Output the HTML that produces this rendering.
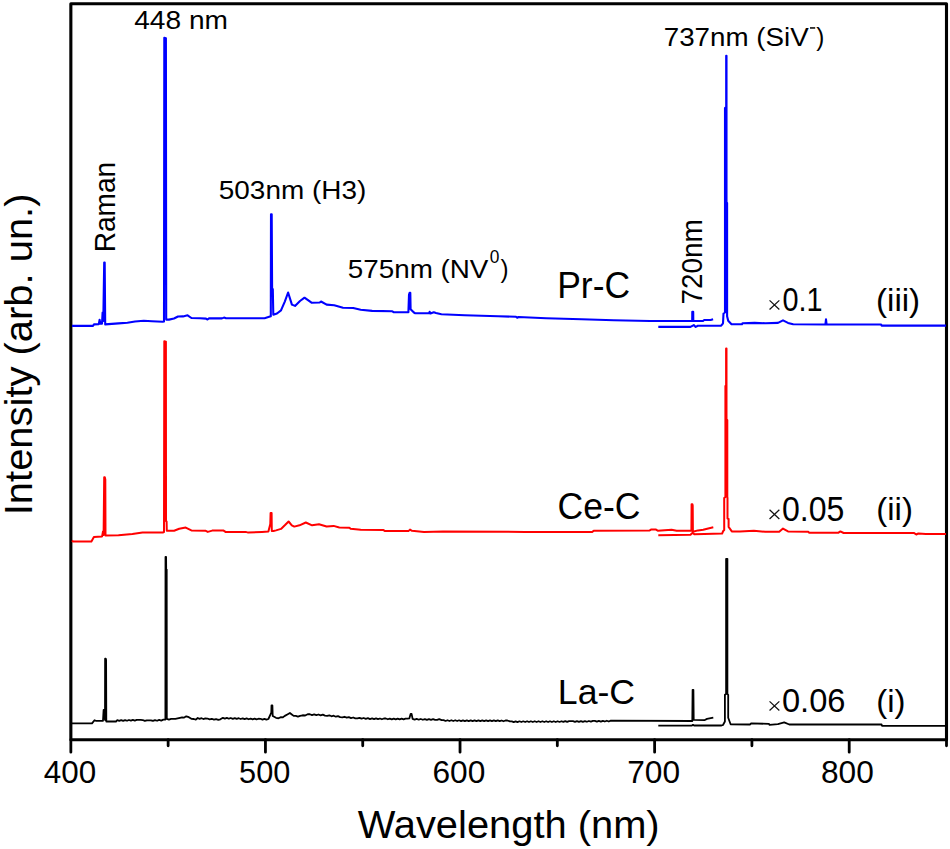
<!DOCTYPE html>
<html><head><meta charset="utf-8"><title>PL spectra</title>
<style>html,body{margin:0;padding:0;background:#fff;}svg{display:block;}</style></head>
<body><svg width="950" height="849" viewBox="0 0 950 849" font-family="&quot;Liberation Sans&quot;, sans-serif" fill="#000">
<rect width="950" height="849" fill="#fff"/>
<rect x="70.85" y="3.8" width="875.65" height="735.95" fill="none" stroke="#000" stroke-width="3.1" stroke-linejoin="round"/>
<path d="M70.85,739.75V752.2M168.14,739.75V745.8M265.44,739.75V752.2M362.73,739.75V745.8M460.03,739.75V752.2M557.32,739.75V745.8M654.62,739.75V752.2M751.91,739.75V745.8M849.21,739.75V752.2M946.50,739.75V745.8" stroke="#000" stroke-width="2.8" stroke-linecap="round" fill="none"/>
<polyline points="72,325.9 93,325.9 94,324.4 98.8,324.1 99.6,319.8 100.4,323.8 102,323.8 102.6,312.6 103.3,321 104.2,262.6 104.7,262.6 105.2,324.4 118.5,323.4 127.4,322.7 135,321.5 143.8,320.8 152,321.2 162.7,321.8 164,321.5 164.3,37.8 165.9,38.2 166.2,319.6 169,319.6 174,318.5 178,316.5 183,316.4 187.6,315.3 191.4,318 200,318.2 206,318.6 207.5,319.5 209,318.4 222,318.4 224,317.6 226,318.3 264.6,318.2 268.4,317 270.8,316.3 271,214.2 271.7,214.2 272.1,289 272.8,289 273.3,314.8 277,313.5 281,310.4 284.8,301.6 288.1,292.5 291.9,304.6 295,305.9 300,301 304.5,297.7 311.5,302.7 319.7,302.5 321,301.5 326.6,304.6 334.2,305.3 343,307.8 353.2,308 360.7,309.7 372.1,310.9 392.3,311.3 393.6,312.2 408.4,312.3 409,294.8 409.6,292.8 410.3,292.8 410.6,309.2 413.9,312.5 415.3,313.3 429,313.3 429.6,311.8 430.4,313.5 433.8,312.2 436,313 441.4,314.2 464.7,315.2 498.2,316.2 516,316.8 517.2,317.8 518.5,317 546.2,318.3 581.6,319.2 613.8,320.2 649.8,321 692.2,321 692.3,311.7 693.2,311.7 693.3,321 703,321 704.2,320 710.6,320 713.1,319.2" fill="none" stroke="#0000ff" stroke-width="2.1" stroke-linejoin="round" stroke-linecap="butt"/>
<polyline points="658.3,326.9 690.5,326.9 693.8,325.1 695.7,326.9 697.9,325.8 721.2,325.6 723,323.3 723.5,313.5 725,312.5 725,108 726.2,107 726.2,55.8 726.5,55.8 726.5,202 727.1,203 727.1,316.2 728.2,320.8 731.5,324.3 742,324.3 742.5,323.3 754.6,322.9 765.4,323.3 778,322.9 783,320.4 788,322.9 793.2,324.2 825.4,324.5 826,319.3 826.6,324.5 881.1,324.5 881.6,325.6 946,325.6" fill="none" stroke="#0000ff" stroke-width="2.1" stroke-linejoin="round" stroke-linecap="butt"/>
<polyline points="72,540.5 73,541.5 91.4,541.5 93.9,537 102.1,536.4 103,531.4 103.6,535 104.2,477.2 104.8,477.2 105.3,479.5 105.5,535.5 118.5,535.2 132.4,533.9 142.5,532.6 162.7,532.6 164,532 164.3,341.2 165.9,341.6 166,521.3 166.6,521.5 166.8,530.7 174.1,530.7 179.2,528.8 185.7,527.6 191.4,530.4 205.3,530.7 207.8,531.9 212.2,530.6 223.6,530.6 225.5,531.9 245.7,531.9 248.2,532.6 262,532 268.4,531.6 270.3,524 270.6,513 271.6,513 271.8,531 273.5,531 276,530.4 281,528.9 284.8,525.3 288.6,521.5 291.8,525.3 294.3,526.6 299.5,525.3 305.8,522.5 312.1,525.3 319,524.3 326.6,526.5 333.6,525.9 339.3,527.5 349.4,527.8 350.6,528.8 360.7,529.7 383.5,530.1 384.7,530.9 408.7,530.9 410,529.6 412,530.8 424,532.1 442.9,531.5 525,531.9 592.2,532.1 593.7,530.8 649.7,530.4 651.4,529.4 655.6,529.4 657.7,530.7 671.6,529.8 676.6,530.7 691.4,530.7 691.6,504.3 692.4,504.3 692.7,505.5 692.9,531.7 698,530.4 703.2,529.8 708.2,528.5 713.3,527.3" fill="none" stroke="#ff0000" stroke-width="2.0" stroke-linejoin="round" stroke-linecap="butt"/>
<polyline points="658.3,535.2 690.5,534.8 692.4,532.9 694.3,534.2 704.4,534 722.1,533.6 723.2,531 724.2,530 724.2,498 725.4,497 725.4,386 726.1,385 726.1,348.6 726.5,348.6 726.5,419 727.3,420 727.3,497 727.5,498 727.5,518.6 728.6,519 728.6,526.9 731.8,531.4 740,531.4 753.9,530.8 765.3,531.8 779.2,531.8 783,528.6 788,531.4 808.2,531.7 809,532.7 838.5,532.7 840.4,531.4 843.6,533 914.2,533.1 916.3,534.5 918.4,533.4 925.8,533.9 946,533.9" fill="none" stroke="#ff0000" stroke-width="2.0" stroke-linejoin="round" stroke-linecap="butt"/>
<polyline points="72,723.4 92,723.4 94.5,720.2 95.8,720.8 103,720.8 103.6,710 105,720 105.1,658.7 105.8,658.7 106.1,660 106.3,721.5 116,721.5 117.3,720.2 119.25,720.91 121.19,720.13 123.14,720.84 125.08,720.05 127.03,720.77 128.97,719.98 130.92,720.7 132.86,719.91 134.81,720.62 136.75,719.84 138.7,719.8 140.72,719.92 142.74,720.04 144.76,720.91 146.78,720.28 148.8,720.4 150.88,720.3 152.95,720.95 155.03,720.1 157.1,720.75 159.18,719.9 161.25,720.55 163.33,719.7 165.4,719.6 165.5,557 166.1,557 166.2,569.3 166.7,569.5 166.8,718.9 168.95,719.65 171.1,718.9 173.25,718.9 175.4,718.9 177.7,718.35 180,717.8 182.1,717.3 184.2,717.55 186.3,716.3 188.83,717.2 191.37,718.85 193.9,719 195.8,719.7 197.7,718 199.6,718.85 201.5,718.2 203.4,719.05 205.3,718.4 207.46,718.53 209.61,719.41 211.77,718.79 213.93,719.66 216.09,719.04 218.24,719.92 220.4,719.3 222.9,717.8 224.88,718.6 226.86,717.9 228.83,718.71 230.81,718.01 232.79,718.81 234.77,718.11 236.75,718.92 238.73,718.22 240.7,719.02 242.68,718.32 244.66,719.12 246.64,718.43 248.62,719.23 250.6,718.53 252.57,719.33 254.55,718.63 256.53,719.44 258.51,718.74 260.49,718.79 262.47,719.59 264.44,718.9 266.42,719.7 268.4,719 271.3,712.7 271.5,705.5 272.4,705.5 272.7,716 276,717.8 278.5,718.25 281,717.2 282.9,717.3 284.8,715.9 287.35,714.45 289.9,713 291.8,714.45 293.7,715.9 295.83,715.87 297.97,716.58 300.1,715.8 302.63,715.27 305.17,715.48 307.7,714.2 309.86,714.26 312.01,715.06 314.17,714.37 316.33,715.18 318.49,714.49 320.64,715.29 322.8,714.6 324.97,715.58 327.14,715.81 329.31,715.29 331.49,716.26 333.66,715.74 335.83,716.72 338,716.2 340.17,717.14 342.34,717.32 344.51,716.76 346.69,717.69 348.86,717.13 351.03,718.06 353.2,717.5 355.3,718.35 357.4,718.45 359.5,717.8 361.6,718.65 363.7,718 365.8,718.85 367.9,718.2 370,719.05 372.1,718.4 374.07,719.17 376.03,718.43 378,719.2 379.97,718.47 381.93,719.23 383.9,718.5 385.87,718.52 387.83,719.28 389.8,718.55 391.77,719.32 393.73,718.58 395.7,719.35 397.67,718.62 399.63,719.38 401.6,718.65 403.57,719.42 405.53,718.68 407.5,718.7 409.4,718.3 410.6,713.9 411.6,713.9 412.6,718.9 414.65,719.67 416.69,718.95 418.74,719.72 420.78,718.99 422.83,719.77 424.88,719.04 426.92,719.81 428.97,719.08 431.02,719.86 433.06,719.13 435.11,719.9 437.15,719.93 439.2,719.2 441.7,720.2 443.63,720.21 445.56,720.97 447.5,720.23 449.43,720.99 451.36,720.24 453.29,721 455.23,720.26 457.16,721.02 459.09,720.28 461.02,721.04 462.96,720.3 464.89,721.06 466.82,720.31 468.75,721.07 470.69,720.33 472.62,721.09 474.55,720.35 476.48,721.11 478.41,720.37 480.35,721.13 482.28,720.39 484.21,721.14 486.14,720.4 488.08,721.16 490.01,720.42 491.94,721.18 493.87,720.44 495.81,721.2 497.74,720.46 499.67,721.21 501.6,720.47 503.54,721.23 505.47,720.49 507.4,720.5 509.9,721.3 511.81,721.3 513.72,722.04 515.63,721.29 517.54,722.04 519.45,721.28 521.36,722.03 523.27,721.28 525.17,722.02 527.08,721.27 528.99,722.02 530.9,721.27 532.81,722.01 534.72,721.26 536.63,722.01 538.54,721.25 540.45,722 542.36,721.25 544.27,721.99 546.18,721.24 548.09,721.99 550,721.23 551.91,721.98 553.82,721.23 555.73,721.98 557.63,721.22 559.54,721.97 561.45,721.22 563.36,721.96 565.27,721.21 567.18,721.96 569.09,721.2 571,721.2 572.99,721.18 574.98,721.9 576.97,721.12 578.96,721.85 580.95,721.08 582.94,721.8 584.93,721.03 586.92,721.75 588.91,720.98 590.9,721.7 592.89,720.93 594.88,720.9 596.87,721.62 598.86,720.85 600.85,721.58 602.84,720.8 604.83,721.53 606.82,720.75 608.81,721.48 610.8,720.7 692.3,721 692.6,689.8 693.4,689.8 693.7,719.8 704.4,720.2 707,718.9 713.3,717.6" fill="none" stroke="#000" stroke-width="1.8" stroke-linejoin="round" stroke-linecap="butt"/>
<polyline points="658.3,725.7 692,725.5 693,724.8 694,725.5 721.5,725.5 723,725 724.9,721.5 724.9,694.8 726.1,694 726.1,558.8 727.4,558.8 727.4,694 728.2,694.8 728.2,717.7 730.6,724.3 749.9,724.5 751.4,723.3 769,723.9 769.5,724.9 777.9,724.1 784.2,722.3 789.3,724.5 881.6,724.5 882,725.8 946,725.8" fill="none" stroke="#000" stroke-width="1.8" stroke-linejoin="round" stroke-linecap="butt"/>
<text transform="matrix(1.06897,0,0,1.00217,134.220,29.384)" font-size="26.3">448 nm</text>
<text transform="matrix(1.06195,0,0,0.99039,218.790,198.565)" font-size="26.3">503nm (H3)</text>
<text transform="matrix(1.05729,0,0,1.00209,347.828,277.957)" font-size="26.3">575nm (NV</text>
<text transform="matrix(1.05154,0,0,1.06782,489.841,262.502)" font-size="16.5">0</text>
<text transform="matrix(0.91682,0,0,1.00738,500.402,278.163)" font-size="26.3">)</text>
<text transform="matrix(1.05632,0,0,0.95708,663.693,45.788)" font-size="26.3">737nm (SiV</text>
<text transform="matrix(0.92440,0,0,0.96093,816.234,46.337)" font-size="26.3">)</text>
<text transform="matrix(1.01313,0,0,1.06633,557.226,297.510)" font-size="35">Pr-C</text>
<text transform="matrix(1.01631,0,0,1.03251,557.547,518.935)" font-size="35">Ce-C</text>
<text transform="matrix(1.01897,0,0,1.00337,557.823,704.254)" font-size="35">La-C</text>
<text transform="matrix(0.92950,0,0,1.06942,782.528,310.737)" font-size="31">0.1</text>
<text transform="matrix(1.03397,0,0,1.11078,782.049,520.937)" font-size="31">0.05</text>
<text transform="matrix(1.05329,0,0,1.09180,781.901,712.236)" font-size="31">0.06</text>
<text transform="matrix(1.06908,0,0,1.00132,875.989,310.595)" font-size="31">(iii)</text>
<text transform="matrix(1.06308,0,0,1.00976,876.287,520.306)" font-size="31">(ii)</text>
<text transform="matrix(1.06238,0,0,1.01904,876.281,712.422)" font-size="31">(i)</text>
<text transform="matrix(1.03012,0,0,1.03469,43.846,782.746)" font-size="30.5">400</text>
<text transform="matrix(1.00793,0,0,1.03469,239.038,782.746)" font-size="30.5">500</text>
<text transform="matrix(1.03878,0,0,1.03967,432.456,782.545)" font-size="30.5">600</text>
<text transform="matrix(1.03872,0,0,1.03469,627.169,782.746)" font-size="30.5">700</text>
<text transform="matrix(1.03894,0,0,1.03469,820.942,782.746)" font-size="30.5">800</text>
<text transform="matrix(1.00953,0,0,0.99430,357.628,837.797)" font-size="39.5">Wavelength (nm)</text>
<text transform="matrix(0.99938,0,0,1.01099,32.165,515.221) rotate(-90)" font-size="39.5">Intensity (arb. un.)</text>
<text transform="matrix(1.06337,0,0,0.98287,114.747,252.211) rotate(-90)" font-size="28.5">Raman</text>
<text transform="matrix(1.02454,0,0,0.97937,702.300,304.493) rotate(-90)" font-size="28.5">720nm</text>
<rect x="810" y="27.2" width="5.2" height="1.5" fill="#000"/>
<path d="M769.55,300.35L779.35,309.55M779.35,300.35L769.55,309.55" stroke="#111" stroke-width="1.25" fill="none"/>
<path d="M769.55,509.75L779.35,518.95M779.35,509.75L769.55,518.95" stroke="#111" stroke-width="1.25" fill="none"/>
<path d="M769.55,701.35L779.35,710.55M779.35,701.35L769.55,710.55" stroke="#111" stroke-width="1.25" fill="none"/>
</svg></body></html>
